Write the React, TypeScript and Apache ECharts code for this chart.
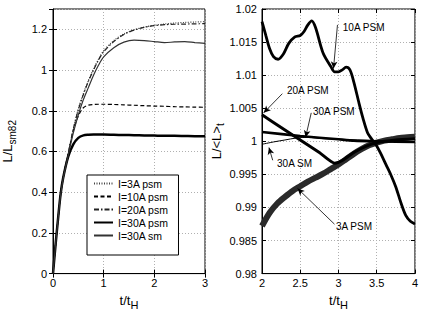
import React, { useEffect, useRef } from "react";
import * as echarts from "echarts";

const FONT = "'Liberation Sans', Arial, sans-serif";

// ---- Left panel: L / L_sm82 vs t/t_H ----
const tLeft = [0, 0.05, 0.1, 0.15, 0.2, 0.3, 0.4, 0.5, 0.6, 0.7, 0.8, 0.9, 1.0, 1.2, 1.4, 1.6, 1.8, 2.0, 2.2, 2.4, 2.6, 2.8, 3.0];
const psm3A = [0, 0.14, 0.27, 0.39, 0.47, 0.59, 0.71, 0.81, 0.885, 0.95, 1.005, 1.055, 1.095, 1.145, 1.178, 1.198, 1.211, 1.22, 1.226, 1.231, 1.234, 1.236, 1.238];
const psm10A = [0, 0.14, 0.27, 0.39, 0.47, 0.59, 0.70, 0.775, 0.815, 0.828, 0.831, 0.832, 0.832, 0.831, 0.829, 0.827, 0.825, 0.823, 0.822, 0.82, 0.819, 0.818, 0.817];
const psm20A = [0, 0.14, 0.27, 0.39, 0.47, 0.59, 0.71, 0.805, 0.88, 0.945, 1.0, 1.05, 1.09, 1.14, 1.175, 1.196, 1.21, 1.218, 1.223, 1.225, 1.226, 1.227, 1.228];
const psm30A = [0, 0.14, 0.27, 0.39, 0.47, 0.575, 0.635, 0.667, 0.679, 0.682, 0.683, 0.683, 0.683, 0.682, 0.681, 0.68, 0.679, 0.678, 0.677, 0.677, 0.676, 0.675, 0.675];
const sm30A = [0, 0.14, 0.27, 0.385, 0.465, 0.58, 0.69, 0.78, 0.855, 0.915, 0.975, 1.025, 1.065, 1.11, 1.137, 1.147, 1.145, 1.14, 1.135, 1.138, 1.14, 1.135, 1.131];
const legendNames = ["I=3A psm", "I=10A psm", "I=20A psm", "I=30A psm", "I=30A sm"];

// ---- Right panel: L / <L>_t vs t/t_H ----
const t10 = [2.0, 2.05, 2.1, 2.15, 2.21, 2.28, 2.35, 2.43, 2.5, 2.55, 2.6, 2.65, 2.7, 2.8, 2.9, 2.95, 3.0, 3.05, 3.1, 3.15, 3.2, 3.27, 3.32, 3.38, 3.43, 3.5, 3.55, 3.62, 3.69, 3.75, 3.82, 3.88, 3.94, 4.0];
const r10A = [1.0181, 1.016, 1.014, 1.0128, 1.0124, 1.0132, 1.0148, 1.0158, 1.016, 1.0166, 1.0176, 1.0182, 1.0172, 1.0133, 1.0113, 1.0105, 1.0105, 1.0108, 1.0112, 1.0108, 1.009, 1.0057, 1.0035, 1.0013, 1.0004, 0.9993, 0.9982, 0.9965, 0.9948, 0.9931, 0.9906, 0.9888, 0.9879, 0.9875];
const t3 = [2.0, 2.1, 2.2, 2.3, 2.4, 2.5, 2.6, 2.7, 2.8, 2.9, 3.0, 3.1, 3.2, 3.3, 3.4, 3.5, 3.6, 3.7, 3.8, 3.9, 4.0];
const r3A = [0.9872, 0.9892, 0.9906, 0.9916, 0.9925, 0.9932, 0.9939, 0.9945, 0.9951, 0.9958, 0.9965, 0.9973, 0.9981, 0.9988, 0.9994, 0.9998, 1.0001, 1.0003, 1.0005, 1.0006, 1.0007];
const t20 = [2.0, 2.25, 2.5, 2.75, 2.95, 3.05, 3.2, 3.35, 3.5, 3.75, 4.0];
const r20A = [1.004, 1.0021, 1.0002, 0.9983, 0.9967, 0.9971, 0.9983, 0.9992, 0.9998, 1.0002, 1.0004];
const t30 = [2.0, 2.5, 3.0, 3.2, 3.5, 4.0];
const r30A = [1.0014, 1.0008, 1.0003, 1.0001, 1.0, 0.9999];
const t30sm = [2.0, 2.15, 2.3, 2.45, 2.6, 2.8, 3.0, 3.5, 4.0];
const r30Asm = [0.99955, 0.9999, 1.0002, 1.0005, 1.0006, 1.0004, 1.0003, 1.0001, 0.9999];

// annotations (data coordinates of right panel)
const annLabels = ["10A PSM", "20A PSM", "30A PSM", "30A SM", "3A PSM"];
const annLabelPos = [[3.05, 1.0172], [2.32, 1.0077], [2.66, 1.00455], [2.19, 0.99658], [2.96, 0.98718]];
const annArrowFrom = [[2.987, 1.0176], [2.266, 1.0072], [2.644, 1.0043], [2.14, 0.99713], [2.948, 0.98747]];
const annArrowTo = [[2.935, 1.011], [2.022, 1.0043], [2.57, 1.0006], [2.091, 0.99906], [2.465, 0.99287]];

const zip = (xs: number[], ys: number[]) => xs.map((x, i) => [x, ys[i]]);

export default function App() {
  const ref = useRef<HTMLDivElement>(null);
  useEffect(() => {
    document.body.style.margin = "0";
    if (!ref.current) return;
    const chart = echarts.init(ref.current, undefined, { renderer: "svg" });
    const tickLabel = { color: "#000", fontSize: 11, fontFamily: FONT };
    const split = { show: true, lineStyle: { color: "#b0b0b0", type: [1, 2] as any, width: 1 } };
    const tick = { show: true, inside: true, length: 4, lineStyle: { color: "#000" } };
    const nameStyle = (sub: number) => ({
      color: "#000",
      fontSize: 13,
      fontFamily: FONT,
      rich: { sub: { fontSize: sub, fontFamily: FONT, color: "#000", padding: [9, 0, 0, 0] } },
    });
    const mirror = (kind: "x" | "y", gi: number, min: number, max: number, interval: number) => ({
      type: "value",
      gridIndex: gi,
      position: kind === "x" ? "top" : "right",
      min,
      max,
      interval,
      axisLine: { show: false },
      axisLabel: { show: false },
      axisTick: tick,
      splitLine: { show: false },
    });
    const lineS = (name: string, data: number[][], xi: number, style: any, extra: any = {}) => ({
      type: "line",
      name,
      xAxisIndex: xi,
      yAxisIndex: xi,
      data,
      showSymbol: false,
      symbol: "none",
      smooth: 0.3,
      lineStyle: style,
      itemStyle: { color: style.color },
      z: 3,
      ...extra,
    });

    chart.setOption({
      animation: false,
      grid: [
        { left: 52, top: 9, width: 153, height: 269, show: true, borderColor: "#000", borderWidth: 1 },
        { left: 262, top: 9, width: 153, height: 269, show: true, borderColor: "#000", borderWidth: 1 },
      ],
      xAxis: [
        {
          type: "value", gridIndex: 0, min: 0, max: 3, interval: 1,
          axisLine: { show: true, lineStyle: { color: "#000" } }, axisTick: tick,
          axisLabel: { ...tickLabel, margin: 4 }, splitLine: split,
          name: "t/t{sub|H}", nameLocation: "middle", nameGap: 13, nameTextStyle: nameStyle(11),
        },
        {
          type: "value", gridIndex: 1, min: 2, max: 4, interval: 0.5,
          axisLine: { show: true, lineStyle: { color: "#000" } }, axisTick: tick,
          axisLabel: { ...tickLabel, margin: 4 }, splitLine: split,
          name: "t/t{sub|H}", nameLocation: "middle", nameGap: 13, nameTextStyle: nameStyle(11),
        },
        mirror("x", 0, 0, 3, 1),
        mirror("x", 1, 2, 4, 0.5),
      ],
      yAxis: [
        {
          type: "value", gridIndex: 0, min: 0, max: 1.3, interval: 0.2,
          axisLine: { show: true, lineStyle: { color: "#000" } }, axisTick: tick,
          axisLabel: { ...tickLabel, margin: 6, showMaxLabel: false }, splitLine: split,
          name: "L/L{sub|sm82}", nameLocation: "middle", nameGap: 36, nameTextStyle: nameStyle(10),
        },
        {
          type: "value", gridIndex: 1, min: 0.98, max: 1.02, interval: 0.005,
          axisLine: { show: true, lineStyle: { color: "#000" } }, axisTick: tick,
          axisLabel: { ...tickLabel, margin: 5 }, splitLine: split,
          name: "L/<L>{sub|t}", nameLocation: "middle", nameGap: 36, nameTextStyle: nameStyle(10),
        },
        mirror("y", 0, 0, 1.3, 0.2),
        mirror("y", 1, 0.98, 1.02, 0.005),
      ],
      legend: {
        data: legendNames,
        orient: "vertical",
        left: 87,
        top: 175,
        padding: [2, 10, 13, 6],
        itemGap: 0,
        itemWidth: 19,
        itemHeight: 10,
        backgroundColor: "#fff",
        borderColor: "#000",
        borderWidth: 1,
        borderRadius: 0,
        itemStyle: { opacity: 0 },
        textStyle: { color: "#000", fontSize: 10.5, fontFamily: FONT, lineHeight: 13 },
      },
      series: [
        lineS(legendNames[0], zip(tLeft, psm3A), 0, { color: "#444", width: 1.2, type: [1, 1.5] }),
        lineS(legendNames[1], zip(tLeft, psm10A), 0, { color: "#000", width: 1.2, type: [4, 2.5] }),
        lineS(legendNames[2], zip(tLeft, psm20A), 0, { color: "#222", width: 1.2, type: [5, 2, 1.5, 2] }),
        lineS(legendNames[3], zip(tLeft, psm30A), 0, { color: "#000", width: 2.5, type: "solid" }),
        lineS(legendNames[4], zip(tLeft, sm30A), 0, { color: "#333", width: 1.2, type: "solid" }),
        lineS("3A PSM", zip(t3, r3A), 1, { color: "#2a2a2a", width: 6, type: "solid" }),
        lineS("10A PSM", zip(t10, r10A), 1, { color: "#000", width: 2.8, type: "solid" }),
        lineS("20A PSM", zip(t20, r20A), 1, { color: "#000", width: 3, type: "solid" }, { smooth: 0.2 }),
        lineS("30A PSM", zip(t30, r30A), 1, { color: "#000", width: 2.6, type: "solid" }, { smooth: 0.2 }),
        lineS("30A SM", zip(t30sm, r30Asm), 1, { color: "#000", width: 1, type: "solid" }, {
          markLine: {
            silent: true,
            symbol: ["none", "arrow"],
            symbolSize: [5, 7],
            lineStyle: { color: "#000", width: 0.8, type: "solid" },
            label: { show: false },
            data: annArrowFrom.map((f, i) => [{ coord: f }, { coord: annArrowTo[i] }]),
          },
          markPoint: {
            silent: true,
            symbol: "rect",
            symbolSize: 1,
            itemStyle: { color: "rgba(0,0,0,0)" },
            label: { show: true, position: "right", distance: 0, color: "#000", fontSize: 10, fontFamily: FONT, formatter: "{b}" },
            data: annLabels.map((n, i) => ({ name: n, coord: annLabelPos[i] })),
          },
        }),
      ],
    });
    return () => chart.dispose();
  }, []);
  return <div ref={ref} style={{ width: 421, height: 315 }} />;
}
